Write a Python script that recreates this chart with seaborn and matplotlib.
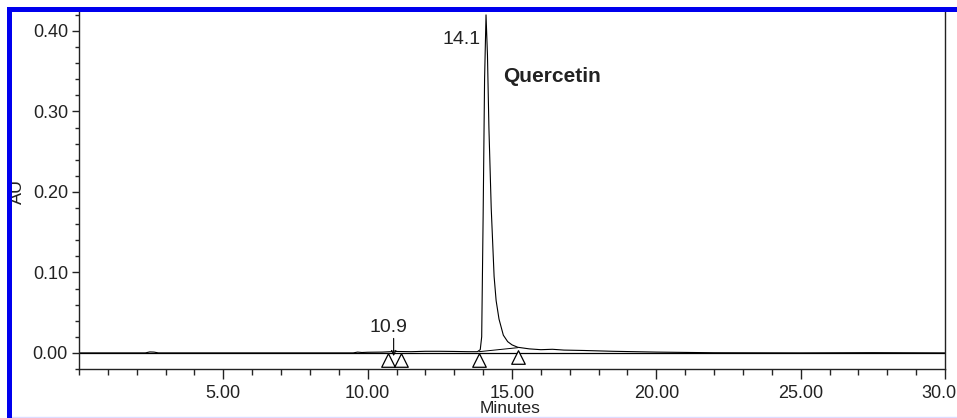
import matplotlib
matplotlib.use("Agg")
import matplotlib.pyplot as plt
import matplotlib.transforms as mtransforms
import seaborn as sns
import pandas as pd
from matplotlib.ticker import MultipleLocator, FixedLocator
from matplotlib.patches import Rectangle
from matplotlib.lines import Line2D

# ---- data ----
time_min = [0.0, 2.3, 2.45, 2.6, 2.75, 9.5, 9.65, 9.8, 10.0, 10.5, 10.8, 10.9, 11.0,
            11.5, 12.0, 12.5, 13.0, 13.5, 13.8, 13.9, 13.95, 14.0, 14.05, 14.1, 14.15,
            14.2, 14.28, 14.38, 14.45, 14.55, 14.7, 14.85, 15.0, 15.2, 15.6, 16.0,
            16.4, 16.8, 17.5, 18.5, 20.0, 22.0, 25.0, 27.5, 30.0]
absorbance = [0.0, 0.0, 0.0012, 0.001, 0.0, 0.0, 0.001, 0.0005, 0.0008, 0.001, 0.0015,
              0.0025, 0.0018, 0.0015, 0.002, 0.002, 0.0018, 0.0015, 0.0015, 0.004, 0.02,
              0.17, 0.34, 0.42, 0.37, 0.28, 0.18, 0.095, 0.065, 0.042, 0.022, 0.014,
              0.01, 0.007, 0.005, 0.004, 0.0045, 0.0035, 0.003, 0.002, 0.001, 0.0002,
              0.0, 0.0003, 0.0]
baseline_time = [13.85, 15.2]
baseline_au = [0.0015, 0.0065]
marker_time = [10.7, 11.15, 13.85, 15.2]
marker_au = [-0.0085, -0.0085, -0.0085, -0.005]
peak_labels = ["10.9", "14.1"]
compound = "Quercetin"
x_ticks = [5, 10, 15, 20, 25, 30]
x_ticklabels = ["5.00", "10.00", "15.00", "20.00", "25.00", "30.0"]
y_ticks = [0.0, 0.1, 0.2, 0.3, 0.4]
y_ticklabels = ["0.00", "0.10", "0.20", "0.30", "0.40"]

sns.set_style("ticks")
plt.rcParams['font.family'] = ['Liberation Sans', 'DejaVu Sans']

W, H = 957, 418
fig = plt.figure(figsize=(W / 100, H / 100), dpi=100)
ax = fig.add_axes([79 / W, 49 / H, (945 - 79) / W, (369 - 12) / H])

trace = pd.DataFrame({"Minutes": time_min, "AU": absorbance})
sns.lineplot(data=trace, x="Minutes", y="AU", ax=ax, color="black", linewidth=0.8,
             estimator=None, sort=False)
sns.lineplot(x=baseline_time, y=baseline_au, ax=ax, color="black", linewidth=0.7,
             estimator=None)
ax.axhline(0, color="black", linewidth=0.9, zorder=1)
sns.scatterplot(x=marker_time, y=marker_au, ax=ax, marker="^", s=95,
                facecolor="white", edgecolor="black", linewidth=0.9, zorder=5)

ax.set_xlim(0, 30)
ax.set_ylim(-0.02, 0.4236)
ax.xaxis.set_major_locator(FixedLocator(x_ticks))
ax.set_xticklabels(x_ticklabels)
ax.xaxis.set_minor_locator(MultipleLocator(1))
ax.yaxis.set_major_locator(FixedLocator(y_ticks))
ax.set_yticklabels(y_ticklabels)
ax.yaxis.set_minor_locator(MultipleLocator(0.02))
ax.tick_params(axis="both", which="major", labelsize=13, width=1.0, color="#222222",
               labelcolor="#222222", direction="out")
ax.tick_params(axis="x", which="major", length=7.5, pad=4)
ax.tick_params(axis="y", which="major", length=5, pad=3)
ax.tick_params(axis="x", which="minor", length=4, width=1.0)
ax.tick_params(axis="y", which="minor", length=3, width=1.0)
ax.set_xlabel("")
ax.set_ylabel("")
ax.spines["top"].set_visible(False)
for s in ["left", "bottom", "right"]:
    ax.spines[s].set_linewidth(1.0)
    ax.spines[s].set_color("#222222")

# last x tick label sits against the right edge of the picture
last = ax.get_xticklabels()[-1]
last.set_transform(last.get_transform() +
                   mtransforms.ScaledTranslation(-6 / 100, 0, fig.dpi_scale_trans))

# annotations
ax.annotate("", xy=(10.9, -0.004), xytext=(10.9, 0.018),
            arrowprops=dict(arrowstyle="->", color="black", lw=0.8,
                            shrinkA=0, shrinkB=0, mutation_scale=8))
ax.text(10.72, 0.021, peak_labels[0], ha="center", va="bottom", fontsize=14,
        color="#222222")
ax.text(13.93, 0.389, peak_labels[1], ha="right", va="center", fontsize=14,
        color="#222222")
ax.text(14.69, 0.343, compound, ha="left", va="center", fontsize=15,
        fontweight="bold", color="#222222")

fig.text(17 / W, 1 - 191 / H, "AU", rotation=90, ha="center", va="center",
         fontsize=13, color="#222222")
fig.text(480 / W, 2 / H, "Minutes", ha="left", va="bottom", fontsize=12.5,
         color="#222222")

# blue frame of the original screenshot
fig.patches.append(Rectangle((7 / W, 0), 5 / W, 1 - 7 / H, transform=fig.transFigure,
                             facecolor="#0000ee", edgecolor="none", zorder=10))
fig.patches.append(Rectangle((7 / W, 1 - 12 / H), 1 - 7 / W, 5 / H,
                             transform=fig.transFigure, facecolor="#0000ee",
                             edgecolor="none", zorder=10))
fig.lines.append(Line2D([12 / W, 1], [1.5 / H, 1.5 / H], transform=fig.transFigure,
                        color="#dcdcff", linewidth=1))

fig.savefig("out.png", dpi=100)
